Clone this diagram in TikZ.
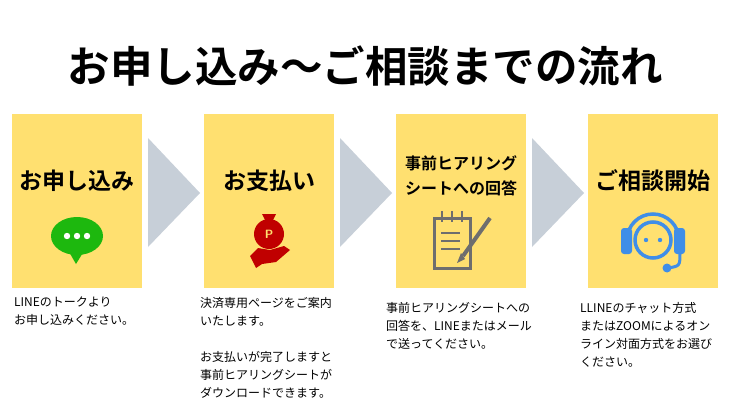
\documentclass[tikz,border=0pt]{standalone}
\usepackage{fontspec}
\newfontfamily\cjkbold{Noto Sans CJK JP Bold}
\newfontfamily\cjk{Noto Sans CJK JP}
\usetikzlibrary{positioning}
\definecolor{boxyellow}{HTML}{FFE070}
\definecolor{arrowgray}{HTML}{C7CFD8}
\definecolor{linegreen}{HTML}{1DB80E}
\definecolor{bagred}{HTML}{C00000}
\definecolor{padgray}{HTML}{6E6E6E}
\definecolor{headblue}{HTML}{3F8EE8}
\tikzstyle{stepbox}=[fill=boxyellow,draw=none,minimum width=130pt,minimum height=174pt,inner sep=0pt]
\tikzstyle{steptitle}=[font=\cjkbold\fontsize{23}{28}\selectfont,align=center]
\tikzstyle{stepnote}=[font=\cjk\fontsize{12}{18}\selectfont,align=left,anchor=north west,inner sep=0pt]
\tikzstyle{chevron}=[fill=arrowgray,draw=none]

\begin{document}
\begin{tikzpicture}[x=1pt,y=-1pt]
		\useasboundingbox[fill=white] (0,0) rectangle (730,417);
		\node [font=\cjkbold\fontsize{42.5}{46}\selectfont] (title) at (365,66) {お申し込み〜ご相談までの流れ};

		\node [stepbox] (box1) at (77,201)  {};
		\node [stepbox] (box2) at (269,201) {};
		\node [stepbox] (box3) at (461,201) {};
		\node [stepbox] (box4) at (653,201) {};

		\node [steptitle] (t1) at (77,181)  {お申し込み};
		\node [steptitle] (t2) at (269,181) {お支払い};
		\node [steptitle, font=\cjkbold\fontsize{16}{25}\selectfont] (t3) at (461,176) {事前ヒアリング\\シートへの回答};
		\node [steptitle] (t4) at (653,181) {ご相談開始};

		% chevrons
		\foreach \x in {148,340,532}
			\fill [chevron] (\x,138) -- (\x+52,193) -- (\x,247) -- cycle;

		% line bubble
		\fill [linegreen] (77,236) ellipse (26pt and 19pt);
		\fill [linegreen] (68,250) -- (76,264) -- (84,251) -- cycle;
		\foreach \dx in {-10,0,10}
			\fill [white] (77+\dx,236) circle (3.2pt);

		% money bag
		\fill [bagred] (269,234) circle (15pt);
		\fill [bagred] (262,214) -- (276,214) -- (272,222) -- (266,222) -- cycle;
		\node [font=\sffamily\bfseries\fontsize{12}{12}\selectfont, text=boxyellow] (pmark) at (269,234) {P};
		\fill [bagred] (250,256) -- (258,248) -- (270,250) -- (284,246) -- (290,250) -- (276,262) -- (262,264) -- (256,268) -- cycle;

		% note pad
		\draw [padgray, line width=3pt] (434,218) rectangle (470,268);
		\foreach \lx in {442,452,462}
			\draw [padgray, line width=2.5pt] (\lx,211) -- (\lx,222);
		\foreach \ly in {233,241,249}
			\draw [padgray, line width=2.5pt] (441,\ly) -- (460,\ly);
		\draw [padgray, line width=4pt] (490,218) -- (463,256);
		\fill [padgray] (461,253) -- (465,259) -- (457,263) -- cycle;

		% headset
		\draw [headblue, line width=3.5pt] (653,240) circle (18pt);
		\draw [headblue, line width=3.5pt] (627,240) arc (180:0:26pt and 26pt);
		\fill [headblue, rounded corners=3pt] (621,228) rectangle (632,254);
		\fill [headblue, rounded corners=3pt] (674,228) rectangle (685,254);
		\draw [headblue, line width=3pt] (680,252) .. controls (680,266) .. (668,268);
		\fill [headblue] (667,268) circle (4.5pt);
		\fill [headblue] (646,240) circle (2.2pt);
		\fill [headblue] (660,240) circle (2.2pt);

		% notes
		\node [stepnote] (n1) at (14,297)  {LINEのトークより\\お申し込みください。};
		\node [stepnote] (n2) at (200,297) {決済専用ページをご案内\\いたします。\\[18pt]お支払いが完了しますと\\事前ヒアリングシートが\\ダウンロードできます。};
		\node [stepnote] (n3) at (386,302) {事前ヒアリングシートへの\\回答を、LINEまたはメール\\で送ってください。};
		\node [stepnote] (n4) at (580,302) {LLINEのチャット方式\\またはZOOMによるオン\\ライン対面方式をお選び\\ください。};
	\end{tikzpicture}
\end{document}
